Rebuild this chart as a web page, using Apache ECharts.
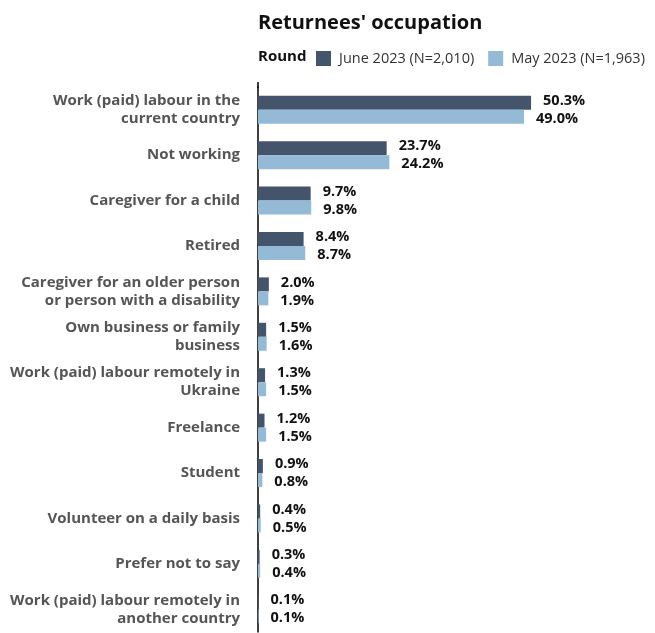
<!DOCTYPE html>
<html><head><meta charset="utf-8">
<script src="https://cdn.jsdelivr.net/npm/echarts@6/dist/echarts.min.js"></script>
<style>html,body{margin:0;padding:0;background:#fff}#c{width:655px;height:633px}</style>
</head><body><div id="c"></div>
<script>
const categories = [
  "Work (paid) labour in the\ncurrent country",
  "Not working",
  "Caregiver for a child",
  "Retired",
  "Caregiver for an older person\nor person with a disability",
  "Own business or family\nbusiness",
  "Work (paid) labour remotely in\nUkraine",
  "Freelance",
  "Student",
  "Volunteer on a daily basis",
  "Prefer not to say",
  "Work (paid) labour remotely in\nanother country"
];
const june2023 = [50.3, 23.7, 9.7, 8.4, 2.0, 1.5, 1.3, 1.2, 0.9, 0.4, 0.3, 0.1];
const may2023 = [49.0, 24.2, 9.8, 8.7, 1.9, 1.6, 1.5, 1.5, 0.8, 0.5, 0.4, 0.1];
const seriesNames = ["June 2023 (N=2,010)", "May 2023 (N=1,963)"];

const FONT = "'Open Sans', 'Noto Sans', sans-serif";
const chart = echarts.init(document.getElementById('c'));
const lbl = (dy) => ({
  show: true, position: 'right', distance: 12, offset: [0, dy],
  formatter: p => p.value.toFixed(1) + '%',
  color: '#111', fontWeight: 'bold', fontSize: 14.5, fontFamily: FONT
});
chart.setOption({
  animation: false,
  title: {
    text: "Returnees' occupation", left: 253, top: 8,
    textStyle: { fontSize: 20, fontWeight: 'bold', color: '#111', fontFamily: FONT }
  },
  graphic: [{
    type: 'text', left: 258, top: 49,
    style: { text: 'Round', font: "bold 15px 'Open Sans', sans-serif", fill: '#111' }
  }, {
    type: 'line', shape: { x1: 258, y1: 82, x2: 258, y2: 88 },
    style: { stroke: '#000', lineWidth: 1.5 }
  }],
  legend: {
    left: 311, top: 46, itemWidth: 15, itemHeight: 15, itemGap: 14,
    icon: 'rect',
    textStyle: { fontSize: 14.5, color: '#333', fontFamily: FONT, padding: [0, 0, 0, 3] },
    data: seriesNames
  },
  grid: { left: 258, top: 87, width: 380, height: 545, containLabel: false },
  xAxis: { type: 'value', min: 0, max: 70, show: false },
  yAxis: {
    type: 'category', data: categories, inverse: true,
    axisLine: { show: true, lineStyle: { color: '#000', width: 1.5 } },
    axisTick: { show: false },
    axisLabel: {
      margin: 18, fontSize: 15, fontWeight: 'bold', color: '#555',
      fontFamily: FONT, lineHeight: 18, align: 'right'
    }
  },
  series: [
    { name: seriesNames[0], type: 'bar', data: june2023, barWidth: 14, barGap: '0%',
      itemStyle: { color: '#44546b' }, label: lbl(-2) },
    { name: seriesNames[1], type: 'bar', data: may2023, barWidth: 14, barGap: '0%',
      itemStyle: { color: '#94bad6' }, label: lbl(2) }
  ]
});
</script></body></html>
